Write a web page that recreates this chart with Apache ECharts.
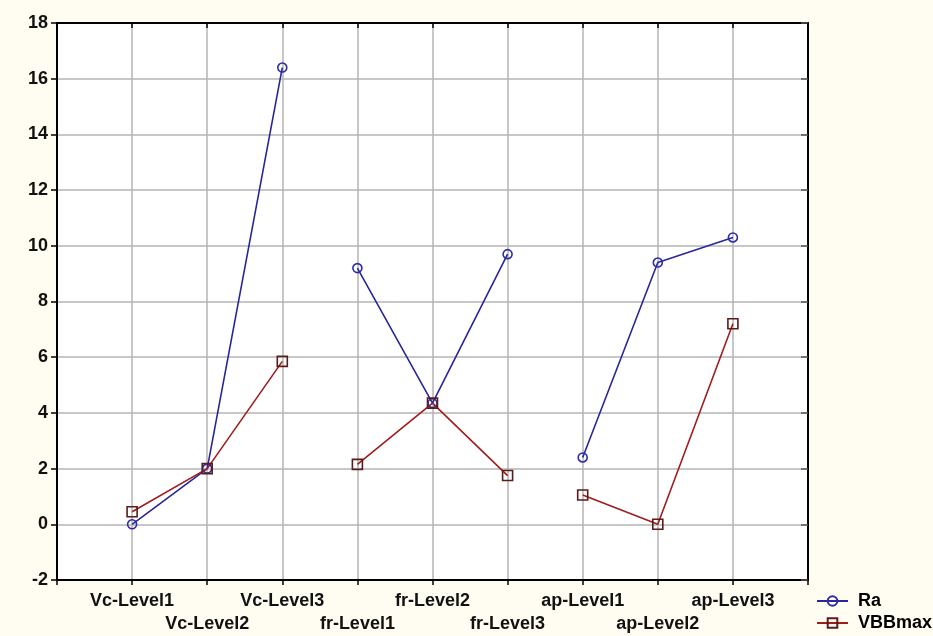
<!DOCTYPE html>
<html>
<head>
<meta charset="utf-8">
<script src="https://cdn.jsdelivr.net/npm/echarts@6/dist/echarts.min.js"></script>
<style>
  html, body { margin: 0; padding: 0; background: #fffdf2; }
  #chart { width: 933px; height: 636px; }
</style>
</head>
<body>
<div id="chart"></div>
<script>
// Factor levels along the x axis, grouped by factor
const categories = ['Vc-Level1', 'Vc-Level2', 'Vc-Level3',
                    'fr-Level1', 'fr-Level2', 'fr-Level3',
                    'ap-Level1', 'ap-Level2', 'ap-Level3'];
const groupSize = 3;

// Mean responses per level
const raValues  = [0.0, 2.0, 16.4, 9.2, 4.35, 9.7, 2.4, 9.4, 10.3];
const vbbValues = [0.45, 2.0, 5.85, 2.15, 4.35, 1.75, 1.05, 0.0, 7.2];

// Y axis range
const yMin = -2, yMax = 18, yStep = 2;

// Axis slots: one empty slot on each side of the levels
const axisSlots = [''].concat(categories, ['']);

const FONT = '"Liberation Sans", Arial, sans-serif';

// One polyline per factor group, so lines break between groups
function groupData(values, g) {
  return axisSlots.map((_, i) => {
    const k = i - 1;
    if (k < 0 || k >= categories.length) return null;
    return Math.floor(k / groupSize) === g ? values[k] : null;
  });
}

function makeSeries(name, values, lineColor, symbol, symbolSize, borderColor) {
  const out = [];
  const nGroups = Math.ceil(categories.length / groupSize);
  for (let g = 0; g < nGroups; g++) {
    out.push({
      name: name,
      type: 'line',
      xAxisIndex: 0,
      yAxisIndex: 0,
      data: groupData(values, g),
      connectNulls: false,
      symbol: symbol,
      symbolSize: symbolSize,
      showAllSymbol: true,
      lineStyle: { color: lineColor, width: 1.6 },
      itemStyle: { color: 'rgba(255,255,255,0)', borderColor: borderColor, borderWidth: 1.6 },
      emphasis: { disabled: true }
    });
  }
  return out;
}

const chart = echarts.init(document.getElementById('chart'), null, { renderer: 'canvas' });

chart.setOption({
  animation: false,
  backgroundColor: '#fffdf2',
  grid: {
    left: 57, right: 125, top: 23, bottom: 56,
    show: true, backgroundColor: '#ffffff', borderWidth: 0
  },
  legend: {
    orient: 'vertical',
    left: 816,
    top: 592,
    padding: 0,
    itemWidth: 31,
    itemHeight: 12,
    itemGap: 4,
    textStyle: { fontFamily: FONT, fontSize: 18, color: '#000', fontWeight: 'bold', padding: [0, 0, 0, 5] },
    data: ['Ra', 'VBBmax']
  },
  xAxis: [
    {
      type: 'category',
      data: axisSlots,
      boundaryGap: false,
      position: 'bottom',
      axisLine: { show: true, onZero: false, lineStyle: { color: '#000', width: 2 } },
      axisTick: { show: true, inside: false, length: 5, interval: 0, lineStyle: { color: '#000', width: 1.5 } },
      axisLabel: {
        interval: 0,
        margin: 10,
        fontFamily: FONT,
        fontSize: 18,
        fontWeight: 'bold',
        color: '#111',
        lineHeight: 23,
        formatter: function (value, index) {
          if (!value) return '';
          return (index % 2 === 1) ? value : '\n' + value;
        }
      },
      splitLine: { show: true, interval: 0, lineStyle: { color: '#b4b4b4', width: 1.5 } }
    },
    {
      type: 'category',
      data: axisSlots,
      boundaryGap: false,
      position: 'top',
      axisLine: { show: true, onZero: false, lineStyle: { color: '#000', width: 2 } },
      axisTick: { show: true, inside: true, length: 5, interval: 0, lineStyle: { color: '#000', width: 1.5 } },
      axisLabel: { show: false },
      splitLine: { show: false }
    }
  ],
  yAxis: [
    {
      type: 'value',
      min: yMin,
      max: yMax,
      interval: yStep,
      position: 'left',
      axisLine: { show: true, onZero: false, lineStyle: { color: '#000', width: 2 } },
      axisTick: { show: true, inside: false, length: 6, lineStyle: { color: '#000', width: 1.5 } },
      axisLabel: { margin: 9, fontFamily: FONT, fontSize: 18, fontWeight: 'bold', color: '#111' },
      splitLine: { show: true, lineStyle: { color: '#b4b4b4', width: 1.5 } }
    },
    {
      type: 'value',
      min: yMin,
      max: yMax,
      interval: yStep,
      position: 'right',
      axisLine: { show: true, onZero: false, lineStyle: { color: '#000', width: 2 } },
      axisTick: { show: true, inside: true, length: 7, lineStyle: { color: '#555', width: 1.5 } },
      axisLabel: { show: false },
      splitLine: { show: false }
    }
  ],
  series: [].concat(
    makeSeries('Ra', raValues, '#27279a', 'circle', 9, '#2d2da8'),
    makeSeries('VBBmax', vbbValues, '#a11d1d', 'rect', 10, '#5b1c1c')
  )
});
</script>
</body>
</html>
